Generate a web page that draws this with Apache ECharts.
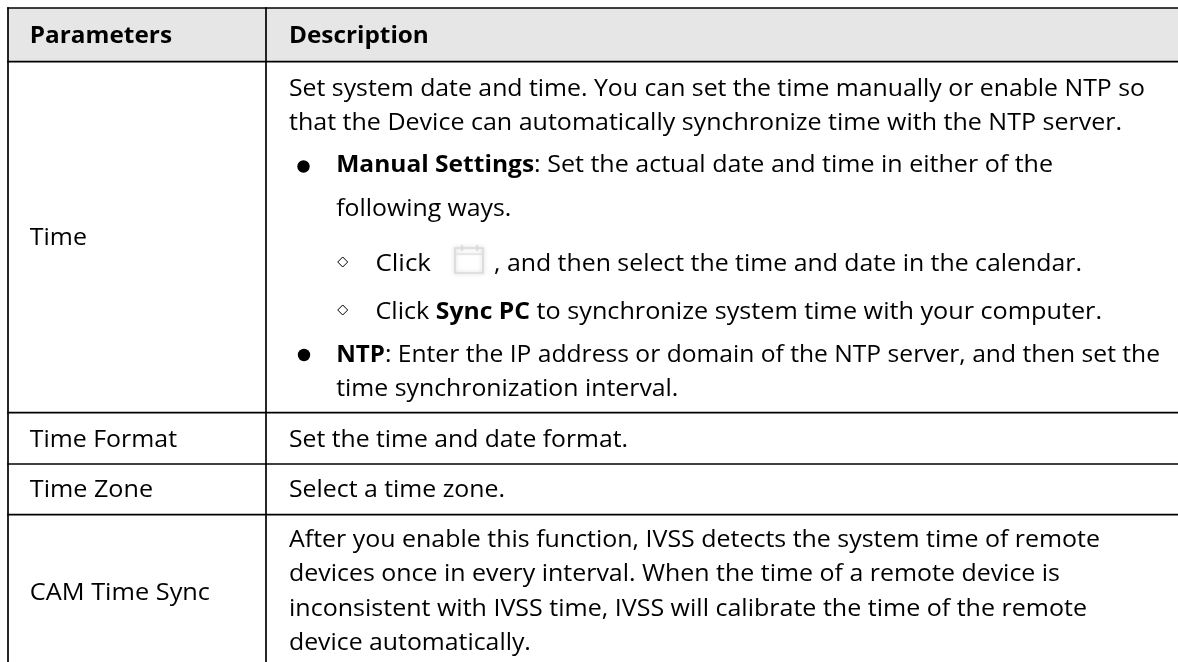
<!DOCTYPE html>
<html><head><meta charset="utf-8">
<style>html,body{margin:0;padding:0;background:#fff}#c{width:1178px;height:662px}</style>
<script src="https://cdn.jsdelivr.net/npm/echarts@6/dist/echarts.min.js"></script>
</head><body><div id="c"></div>
<script>
// ---- content ----
const headerLabels = ['Parameters', 'Description'];
const parameterLabels = ['Time', 'Time Format', 'Time Zone', 'CAM Time Sync'];
const timeIntro = [
  'Set system date and time. You can set the time manually or enable NTP so',
  'that the Device can automatically synchronize time with the NTP server.'
];
const manualLine = [['Manual Settings', 1], [': Set the actual date and time in either of the', 0]];
const manualLine2 = 'following ways.';
const clickWord = 'Click';
const clickAfterIcon = ', and then select the time and date in the calendar.';
const syncLine = [['Click ', 0], ['Sync PC', 1], [' to synchronize system time with your computer.', 0]];
const ntpLine = [['NTP', 1], [': Enter the IP address or domain of the NTP server, and then set the', 0]];
const ntpLine2 = 'time synchronization interval.';
const formatText = 'Set the time and date format.';
const zoneText = 'Select a time zone.';
const camText = [
  'After you enable this function, IVSS detects the system time of remote',
  'devices once in every interval. When the time of a remote device is',
  'inconsistent with IVSS time, IVSS will calibrate the time of the remote',
  'device automatically.'
];

// ---- layout ----
const FONT = '"Open Sans"', SIZE = 23, INK = '#000000', OFF = -7.5;
const ctx = document.createElement('canvas').getContext('2d');
const fontOf = b => (b ? 'bold ' : '') + SIZE + 'px ' + FONT;
const natural = (t, b) => { ctx.font = fontOf(b); return ctx.measureText(t).width; };
const REG_SCALE = (1145 - 289) / natural(timeIntro[0], 0);
const BOLD_SCALE = (172 - 30) / natural(headerLabels[0], 1);
const graphics = [];

function addLine(parts, x0, x1, base) {
  if (typeof parts === 'string') parts = [[parts, 0]];
  let nw = 0;
  const ws = parts.map(p => { const m = natural(p[0], p[1]); nw += m * (p[1] ? BOLD_SCALE : REG_SCALE); return m; });
  const fit = x1 == null ? 1 : (x1 - x0) / nw;
  let x = x0;
  parts.forEach((p, i) => {
    const s = (p[1] ? BOLD_SCALE : REG_SCALE) * fit;
    graphics.push({ type: 'text', x: x, y: base + OFF, scaleX: s, silent: true,
      style: { text: p[0], font: fontOf(p[1]), fill: INK, verticalAlign: 'middle', align: 'left' } });
    x += ws[i] * s;
  });
}
function hLine(x1, x2, y) { graphics.push({ type: 'line', silent: true, shape: { x1, y1: y, x2, y2: y }, style: { stroke: '#000', lineWidth: 1.7 } }); }
function vLine(x, y1, y2) { graphics.push({ type: 'line', silent: true, shape: { x1: x, y1, x2: x, y2 }, style: { stroke: '#000', lineWidth: 1.7 } }); }
function bullet(cx, cy) { graphics.push({ type: 'circle', silent: true, shape: { cx, cy, r: 6.2 }, style: { fill: '#000' } }); }
function diamond(cx, cy) {
  const r = 5;
  graphics.push({ type: 'polygon', silent: true, shape: { points: [[cx, cy - r], [cx + r, cy], [cx, cy + r], [cx - r, cy]] },
    style: { fill: '#fff', stroke: '#000', lineWidth: 1 } });
}

// header band
graphics.push({ type: 'rect', silent: true, shape: { x: 8, y: 8, width: 1170, height: 53.7 }, style: { fill: '#e6e6e6' } });
// rules
[8, 61.7, 412.7, 464, 514.7].forEach(y => hLine(7.2, 1178, y));
vLine(8, 7.2, 662);
vLine(266, 7.2, 662);

// left column
const LX = 29.8, RX = 289, BX = 336.2, DX = 375.4;
addLine([[headerLabels[0], 1]], LX, 172, 44);
addLine([[headerLabels[1], 1]], RX, null, 44);
addLine(parameterLabels[0], LX, 87, 246);
addLine(parameterLabels[1], LX, 177, 448);
addLine(parameterLabels[2], LX, 153, 498);
addLine(parameterLabels[3], LX, 210, 601);

// right column
addLine(timeIntro[0], RX, 1145, 97);
addLine(timeIntro[1], RX, 1122, 131);
bullet(303.5, 166.5);
addLine(manualLine, BX, 1053, 173);
addLine(manualLine2, BX, null, 217);
diamond(342.7, 262);
addLine(clickWord, DX, 431, 272);
addLine(clickAfterIcon, 494, 1082, 272);
diamond(342.7, 310);
addLine(syncLine, DX, 1102, 320);
bullet(304, 355);
addLine(ntpLine, BX, 1160, 363);
addLine(ntpLine2, BX, null, 397);
addLine(formatText, RX, 628, 448);
addLine(zoneText, RX, 505, 498);
addLine(camText[0], RX, 1100, 548);
addLine(camText[1], RX, 1060, 582);
addLine(camText[2], RX, 1087, 617);
addLine(camText[3], RX, null, 651);

// calendar icon
const iconStyle = { stroke: '#d9d9d9', lineWidth: 1.6, fill: 'none', shadowBlur: 4, shadowColor: '#cccccc' };
graphics.push({ type: 'rect', silent: true, shape: { x: 455, y: 248, width: 28, height: 25 }, style: iconStyle });
graphics.push({ type: 'line', silent: true, shape: { x1: 455, y1: 254, x2: 483, y2: 254 }, style: { stroke: '#e2e2e2', lineWidth: 1.2, shadowBlur: 2, shadowColor: '#dddddd' } });
[462, 477].forEach(x => graphics.push({ type: 'line', silent: true, shape: { x1: x, y1: 245, x2: x, y2: 251 }, style: { stroke: '#d9d9d9', lineWidth: 1.4, shadowBlur: 2, shadowColor: '#dddddd' } }));

const chart = echarts.init(document.getElementById('c'), null, { renderer: 'canvas' });
chart.setOption({ animation: false, backgroundColor: '#ffffff', graphic: { elements: graphics } });
</script></body></html>
